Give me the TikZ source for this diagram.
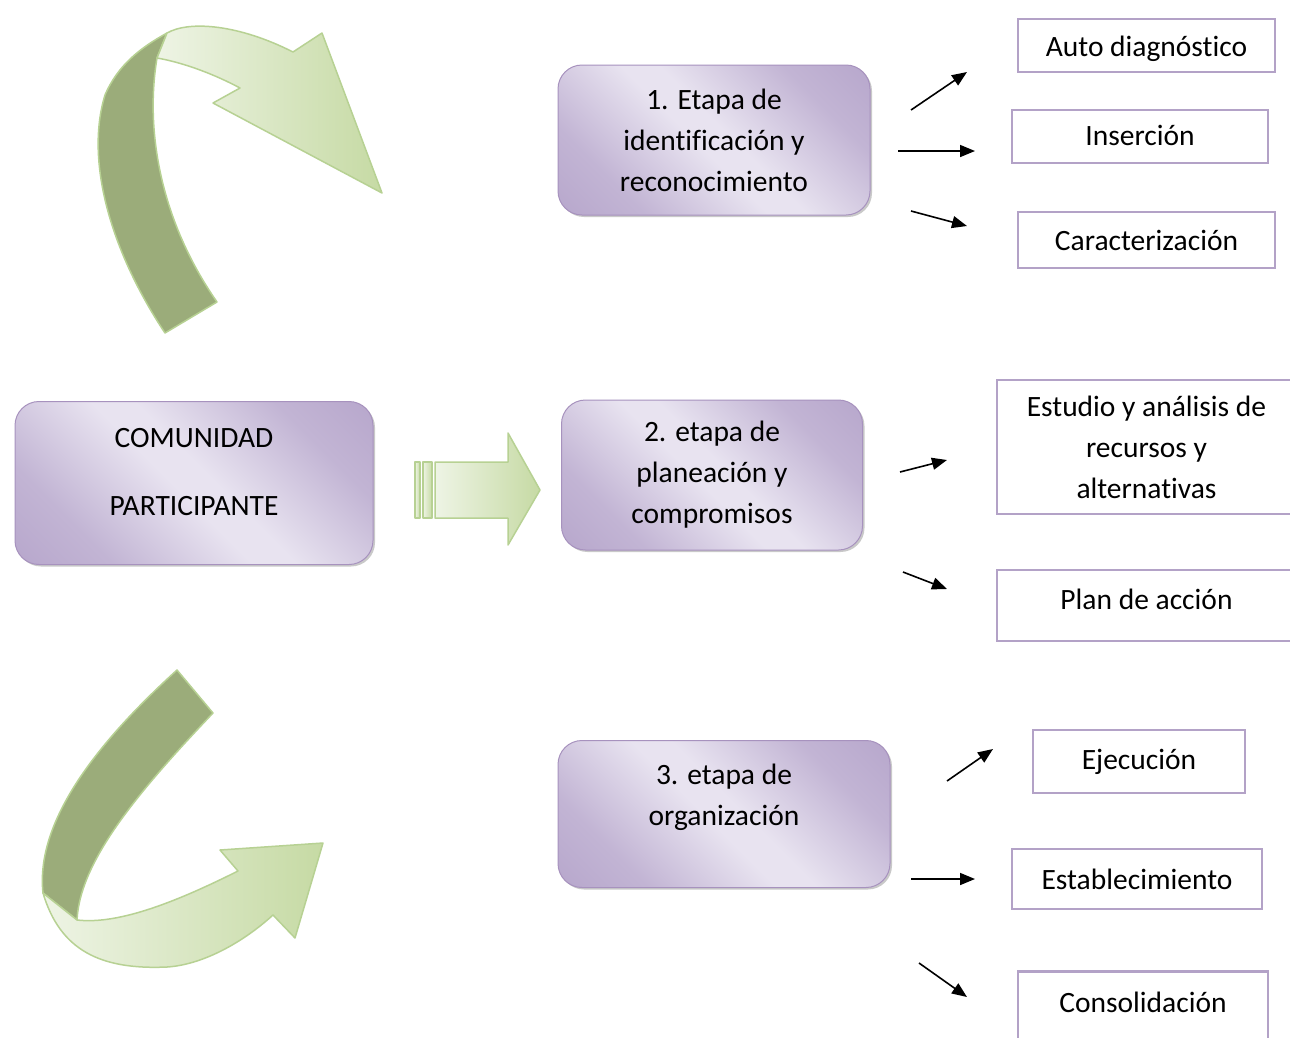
\documentclass[tikz,border=0pt]{standalone}
\usepackage{fontspec}
\setmainfont{Carlito}[Ligatures=NoCommon]
\usetikzlibrary{arrows.meta,shadows}
\definecolor{pdark}{HTML}{AB98C3}
\definecolor{plight}{HTML}{E8E3F0}
\colorlet{pmid}{pdark!62!plight}
\definecolor{pborder}{HTML}{A792BE}
\definecolor{oborder}{HTML}{B3A2C7}
\definecolor{gdark}{HTML}{9BAC7A}
\definecolor{glightA}{HTML}{EEF4E5}
\definecolor{glightB}{HTML}{C6DAA4}
\definecolor{gline}{HTML}{B7D193}
\pgfdeclareverticalshading{pshade}{100bp}{color(0bp)=(pdark); color(28bp)=(pmid); color(47bp)=(plight); color(53bp)=(plight); color(72bp)=(pmid); color(100bp)=(pdark)}
\newcommand\diagfont{\fontsize{29.5pt}{41pt}\selectfont}
\newcommand\vmove[2]{\raisebox{#1}[0.7em][0.25em]{#2}}
\tikzset{
  pbox/.style={rounded corners=24pt, draw=pborder, line width=1pt,
    shading=pshade, shading angle=-45,
    drop shadow={shadow xshift=2pt, shadow yshift=-2pt, fill=gray!70, opacity=.6},
    align=center, font=\diagfont},
  obox/.style={draw=oborder, line width=2.2pt, fill=white, align=center, font=\diagfont},
  arr/.style={line width=1.6pt, -{Triangle[length=15pt,width=12pt]}},
  gdarkrib/.style={fill=gdark, draw=gline, line width=1.5pt, line join=round},
  glightrib/.style={left color=glightA, right color=glightB, draw=gline, line width=1.5pt, line join=round},
  txt/.style={font=\diagfont, align=center}
}
\begin{document}
\begin{tikzpicture}[x=1pt,y=-1pt]
\useasboundingbox[fill=white] (0,0) rectangle (1290,1037);

% top-left curved arrow
\path[gdarkrib] (165,333) .. controls (110,250) and (85,160) .. (105,95)
   .. controls (118,65) and (140,48) .. (167,33) -- (157,58)
   .. controls (145,130) and (160,220) .. (217,302) -- cycle;
\path[glightrib] (167,33) .. controls (190,20) and (240,25) .. (293,52)
   -- (322,33) -- (382,193) -- (213,103) -- (240,88)
   .. controls (210,72) and (180,62) .. (157,58) -- cycle;

% bottom-left curved arrow
\path[gdarkrib] (177,670) -- (213,713) .. controls (140,790) and (80,860) .. (77,920)
   -- (43,893) .. controls (35,820) and (100,740) .. (177,670) -- cycle;
\path[glightrib] (43,893) .. controls (60,950) and (100,970) .. (167,967)
   .. controls (200,965) and (240,945) .. (273,915) -- (295,938) -- (323,843)
   -- (220,850) -- (238,871) .. controls (180,900) and (120,925) .. (77,920) -- cycle;

% block arrow
\path[glightrib] (415,462) rectangle (420,518);
\path[glightrib] (423,462) rectangle (432,518);
\path[glightrib] (435,462) -- (508,462) -- (508,433) -- (540,490) -- (508,545)
   -- (508,518) -- (435,518) -- cycle;

% purple boxes
\node[pbox, minimum width=358pt, minimum height=163pt] (com) at (194,483) {};
\node[txt] (comt) at (194,472) {COMUNIDAD\\[27pt]PARTICIPANTE};
\node[pbox, minimum width=312pt, minimum height=150pt] (e1) at (714,140) {1. Etapa de\\identificación y\\reconocimiento};
\node[pbox, minimum width=301pt, minimum height=150pt] (e2) at (712,475) {2. etapa de\\planeación y\\compromisos};
\node[pbox, minimum width=332pt, minimum height=147pt] (e3) at (724,814) {};
\node[txt] (e3t) at (724,797) {3. etapa de\\organización};

% outline boxes
\node[obox, minimum width=257pt, minimum height=53pt] (ad) at (1146.5,45.5) {\vmove{-4pt}{Auto diagnóstico}};
\node[obox, minimum width=256pt, minimum height=53pt] (ins) at (1140,136.5) {\vmove{-2pt}{Inserción}};
\node[obox, minimum width=257pt, minimum height=56pt] (car) at (1146.5,240) {Caracterización};
\node[obox, minimum width=299pt, minimum height=134pt] (est) at (1146.5,447) {Estudio y análisis de\\recursos y\\alternativas};
\node[obox, minimum width=299pt, minimum height=71pt] (plan) at (1146.5,605.5) {\vmove{3pt}{Plan de acción}};
\node[obox, minimum width=212pt, minimum height=63pt] (eje) at (1139,761.5) {Ejecución};
\node[obox, minimum width=250pt, minimum height=60pt] (esta) at (1137,879) {Establecimiento};
\node[obox, minimum width=250pt, minimum height=73pt] (con) at (1143,1008) {\vmove{2pt}{Consolidación}};

% small arrows
\coordinate (a1s) at (911,110); \coordinate (a1e) at (967,72);
\coordinate (a2s) at (898,151); \coordinate (a2e) at (975,151);
\coordinate (a3s) at (911,211); \coordinate (a3e) at (967,226);
\coordinate (b1s) at (900,472); \coordinate (b1e) at (947,460);
\coordinate (b2s) at (903,572); \coordinate (b2e) at (947,589);
\coordinate (c1s) at (947,781); \coordinate (c1e) at (993,749);
\coordinate (c2s) at (911,879); \coordinate (c2e) at (975,879);
\coordinate (c3s) at (919,963); \coordinate (c3e) at (967,997);
\foreach \s in {a1,a2,a3,b1,b2,c1,c2,c3} \draw[arr] (\s s) -- (\s e);
\end{tikzpicture}
\end{document}
